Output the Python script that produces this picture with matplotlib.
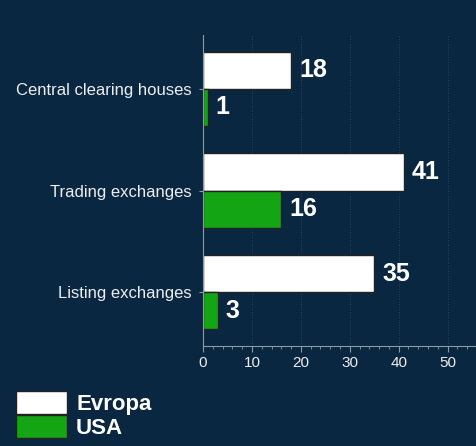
import matplotlib
matplotlib.use('Agg')
import matplotlib.pyplot as plt
import numpy as np

# data
categories = ['Central clearing houses', 'Trading exchanges', 'Listing exchanges']
evropa = [18, 41, 35]
usa = [1, 16, 3]
series_names = ['Evropa', 'USA']

bg = '#0a2741'
green = '#14a514'
txt = '#eeeeee'

plt.rcParams['font.family'] = ['Liberation Sans', 'DejaVu Sans']

fig = plt.figure(figsize=(4.77, 4.46), dpi=100, facecolor=bg)
ax = fig.add_axes([203/477, 1 - 346/446, 274/477, 311/446])
ax.set_facecolor(bg)

y = np.arange(len(categories))
h = 0.365
b1 = ax.barh(y - h/2, evropa, height=h, color='white', edgecolor='#222222', linewidth=1, label=series_names[0])
b2 = ax.barh(y + h/2, usa, height=h, color=green, edgecolor='#222222', linewidth=1, label=series_names[1])

for bars, vals in [(b1, evropa), (b2, usa)]:
    for bar, v in zip(bars, vals):
        ax.text(bar.get_width() + 1.6, bar.get_y() + bar.get_height()/2, str(v),
                color='white', fontsize=18, fontweight='bold', va='center', ha='left')

ax.set_xlim(0, 56)
ax.set_ylim(2.53, -0.53)
ax.set_yticks(y)
ax.set_yticklabels(categories, fontsize=12, color=txt)
ax.set_xticks([0, 10, 20, 30, 40, 50])
ax.set_xticks(np.arange(0, 57, 2), minor=True)
ax.tick_params(axis='x', colors='#8a98a8', labelcolor=txt, labelsize=11, length=4, width=0.8)
ax.tick_params(axis='x', which='minor', colors='#8a98a8', length=2, width=0.6)
ax.tick_params(axis='y', colors='#8a98a8', labelcolor=txt, length=3, width=0.8, pad=5)

ax.grid(axis='x', linestyle=':', color='#2a425c', linewidth=0.7)
ax.set_axisbelow(True)
for s in ['top', 'right']:
    ax.spines[s].set_visible(False)
for s in ['left', 'bottom']:
    ax.spines[s].set_color('#8a98a8')
    ax.spines[s].set_linewidth(0.8)

leg = fig.legend(handles=[b1, b2], labels=series_names, loc='lower left',
                 bbox_to_anchor=(16/477, 7/446), frameon=False,
                 prop={'size': 16, 'weight': 'bold'},
                 handlelength=2.3, handleheight=1.25, labelspacing=0.0,
                 handletextpad=0.4, borderpad=0, borderaxespad=0)
for t in leg.get_texts():
    t.set_color('white')

fig.savefig('out.png', dpi=100, facecolor=bg)
